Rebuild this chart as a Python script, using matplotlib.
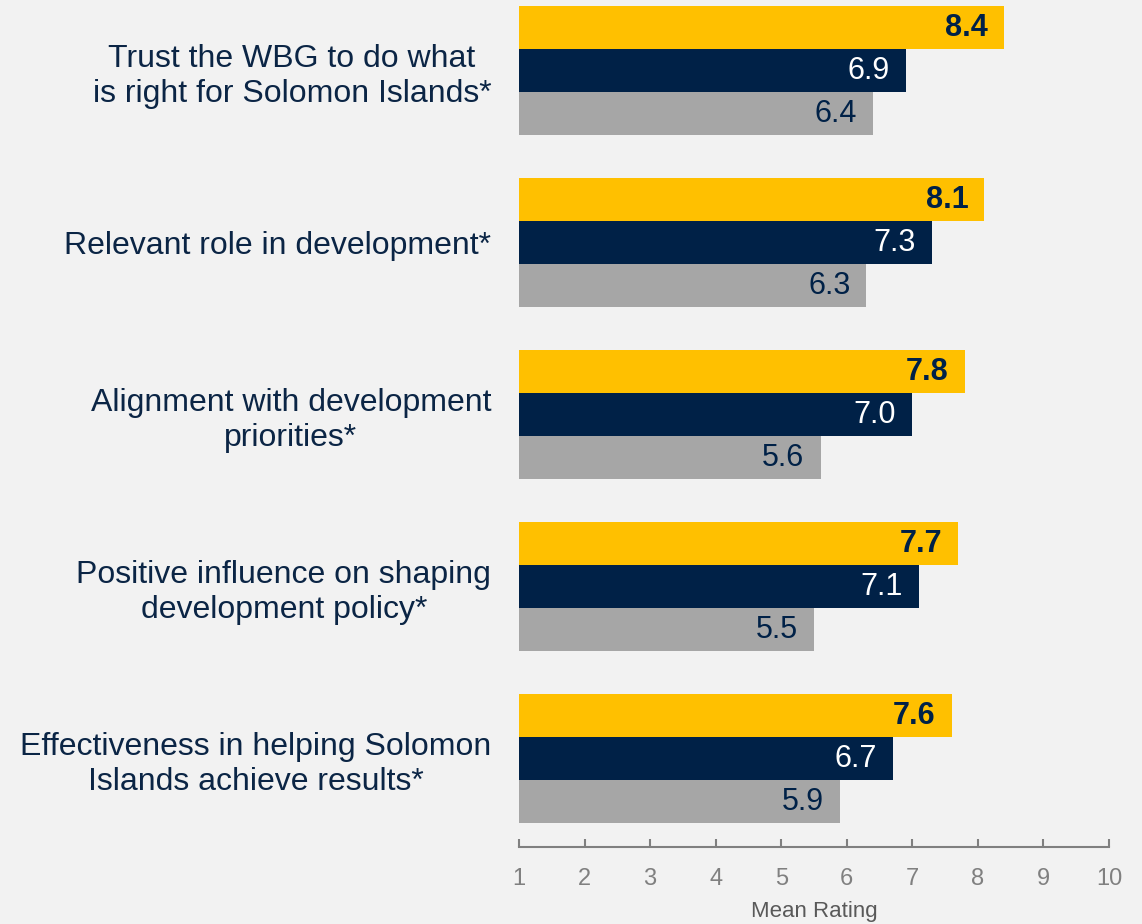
import matplotlib.pyplot as plt
import numpy as np

plt.rcParams['font.family'] = ['Liberation Sans', 'DejaVu Sans']

# data
categories = [
    'Trust the WBG to do what\nis right for Solomon Islands*',
    'Relevant role in development*',
    'Alignment with development\npriorities*',
    'Positive influence on shaping\ndevelopment policy*',
    'Effectiveness in helping Solomon\nIslands achieve results*',
]
yellow_vals = [8.4, 8.1, 7.8, 7.7, 7.6]
navy_vals = [6.9, 7.3, 7.0, 7.1, 6.7]
gray_vals = [6.4, 6.3, 5.6, 5.5, 5.9]

bg = '#F2F2F2'
yellow = '#FFC000'
navy = '#002147'
gray = '#A6A6A6'

fig = plt.figure(figsize=(11.42, 9.24), dpi=100, facecolor=bg)
ax = fig.add_axes([519 / 1142, 77 / 924, 590 / 1142, 847 / 924])
ax.set_facecolor(bg)

# 1 data unit = one bar height (43 px)
pos = np.arange(len(categories)) * 4 + 0.64
series = [(yellow_vals, yellow, navy, 'bold'),
          (navy_vals, navy, 'white', 'normal'),
          (gray_vals, gray, navy, 'normal')]

for k, (vals, col, tcol, weight) in enumerate(series):
    y = pos + k
    ax.barh(y, vals, height=1.0, color=col, edgecolor='none')
    for yi, v in zip(y, vals):
        ax.annotate(f'{v:.1f}', xy=(v, yi), xytext=(-16, 0), textcoords='offset pixels',
                    ha='right', va='center', fontsize=22, color=tcol, fontweight=weight)

ax.set_xlim(1, 10)
ax.set_ylim(847 / 43, 0)
ax.set_xticks(range(1, 11))
ax.tick_params(axis='x', direction='in', length=6, width=1.5, color='#808080',
               labelcolor='#808080', labelsize=17, pad=15)
ax.set_yticks(pos + 1)
ax.set_yticklabels(categories, fontsize=23, color='#0B2545', multialignment='center')
ax.tick_params(axis='y', length=0, pad=20)

for s in ['top', 'right', 'left']:
    ax.spines[s].set_visible(False)
ax.spines['bottom'].set_color('#808080')
ax.spines['bottom'].set_linewidth(1.5)

ax.set_xlabel('Mean Rating', fontsize=16, color='#595959', labelpad=8)

fig.savefig('out.png', dpi=100, facecolor=bg)
